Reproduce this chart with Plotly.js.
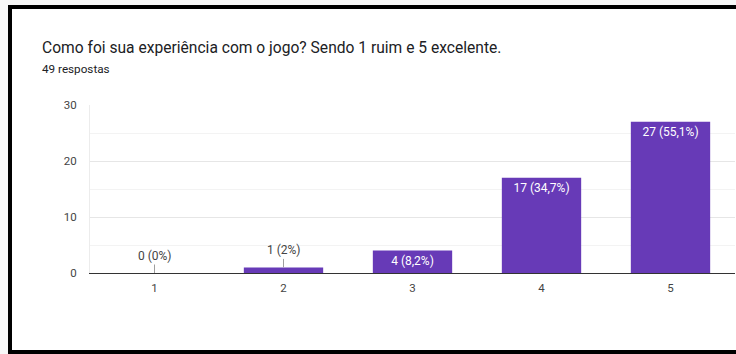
<!DOCTYPE html>
<html>
<head>
<meta charset="utf-8">
<script src="https://cdn.plot.ly/plotly-3.0.1.min.js"></script>
<style>
  html, body { margin: 0; padding: 0; width: 736px; height: 354px; overflow: hidden; background: #f8f8f8; font-family: Roboto, sans-serif; }
  #frame { position: absolute; left: 8px; top: 5px; width: 760px; height: 341px; border: 4px solid #000; background: #fff; box-sizing: content-box; }
  #chart { position: absolute; left: 0; top: 0; width: 736px; height: 354px; }
</style>
</head>
<body>
<div id="frame"></div>
<div id="chart"></div>
<script>
const categories = ['1', '2', '3', '4', '5'];
const counts = [0, 1, 4, 17, 27];
const totalResponses = 49;
const titleText = 'Como foi sua experiência com o jogo? Sendo 1 ruim e 5 excelente.';
const subtitleText = totalResponses + ' respostas';
const yTicks = [0, 10, 20, 30];

function pctLabel(v) {
  const p = Math.round(v / totalResponses * 1000) / 10;
  let s = (p % 1 === 0) ? String(p) : p.toFixed(1).replace('.', ',');
  return v + ' (' + s + '%)';
}

const labels = counts.map(pctLabel);
const insideText = counts.map((v, i) => v >= 3 ? labels[i] : '');

const W = 736, H = 354;
const L = 90, R = 1, T = 105, B = 81;
const plotW = W - L - R, plotH = H - T - B;
const px2paperX = x => (x - L) / plotW;
const px2paperY = y => (H - B - y) / plotH;

const annotations = [
  { xref: 'paper', yref: 'paper', x: px2paperX(40), y: px2paperY(48), xanchor: 'left', yanchor: 'middle',
    text: titleText, showarrow: false, font: { family: 'Roboto', size: 15.6, color: '#202124' } },
  { xref: 'paper', yref: 'paper', x: px2paperX(40), y: px2paperY(69), xanchor: 'left', yanchor: 'middle',
    text: subtitleText, showarrow: false, font: { family: 'Roboto', size: 11.7, color: '#202124' } }
];
counts.forEach((v, i) => {
  if (v < 3) {
    annotations.push({
      x: i, y: v, xref: 'x', yref: 'y', text: labels[i],
      showarrow: true, arrowhead: 0, arrowwidth: 1, arrowcolor: '#9e9e9e',
      ax: 0, ay: -17, standoff: 0, startstandoff: 0,
      font: { family: 'Roboto', size: 12, color: '#444' }
    });
  }
});

const trace = {
  type: 'bar',
  x: categories,
  y: counts,
  text: insideText,
  textposition: 'inside',
  insidetextanchor: 'end',
  constraintext: 'none',
  textfont: { family: 'Roboto', size: 12, color: '#ffffff' },
  marker: { color: '#673ab7', line: { width: 0 } },
  hoverinfo: 'none'
};

const layout = {
  width: W, height: H,
  margin: { l: L, r: R, t: T, b: B, pad: 0 },
  paper_bgcolor: 'rgba(0,0,0,0)',
  plot_bgcolor: 'rgba(0,0,0,0)',
  showlegend: false,
  bargap: 0.385,
  font: { family: 'Roboto', size: 11.5, color: '#444' },
  xaxis: {
    type: 'category', range: [-0.5, 4.5], showgrid: false, zeroline: false,
    showline: true, linecolor: '#333', linewidth: 1,
    ticks: '', tickfont: { family: 'Roboto', size: 11.5, color: '#444' }, ticklabelstandoff: 4
  },
  yaxis: {
    range: [0, 30], tickvals: yTicks, showgrid: true, gridcolor: '#e6e6e6', gridwidth: 1,
    zeroline: false, showline: true, linecolor: '#ececec', linewidth: 1,
    ticks: '', tickfont: { family: 'Roboto', size: 11.5, color: '#444' }, ticklabelstandoff: 10,
    minor: { dtick: 5, showgrid: true, gridcolor: '#f3f3f3', gridwidth: 1 }
  },
  annotations: annotations
};

Plotly.newPlot('chart', [trace], layout, { displayModeBar: false, staticPlot: true });
</script>
</body>
</html>
